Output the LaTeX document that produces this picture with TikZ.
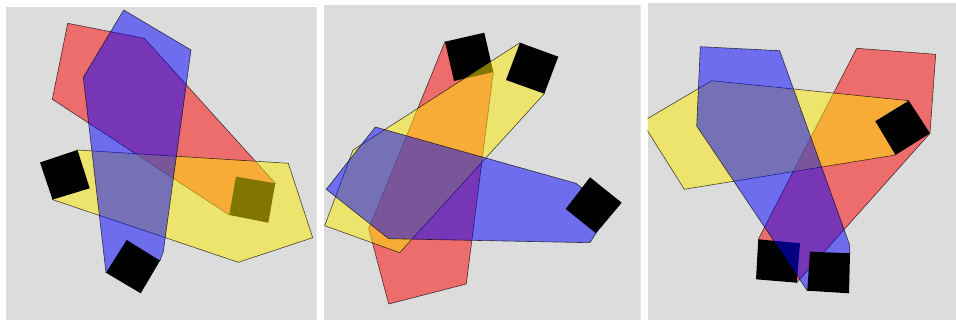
\documentclass[tikz,border=0pt]{standalone}
\usepackage{xcolor}
\usepackage{tikz}

\definecolor{panelgray}{RGB}{220,220,220}
\definecolor{polyyellow}{RGB}{255,236,0}

\begin{document}
\begin{tikzpicture}[
        x=1pt, y=-1pt,
        panel/.style      = {fill=panelgray, draw=none},
        poly/.style       = {draw=black, draw opacity=0.7, line width=0.6pt,
                             fill opacity=0.5, line join=round},
        redpoly/.style    = {poly, fill=red},
        bluepoly/.style   = {poly, fill=blue},
        yellowpoly/.style = {poly, fill=polyyellow},
        blockbox/.style   = {fill=black, draw=none}
    ]
    \useasboundingbox (0,0) rectangle (956,320);

    % --- Left panel ---
    \begin{scope}
    \clip (6,6.7) rectangle (316.7,320);
    \fill[panel] (6,6.7) rectangle (316.7,320);
    \draw[redpoly] (67.7,23.3) -- (144.3,38.3) -- (275.3,183.3) -- (229.3,215) -- (52.3,99.3) -- cycle;
    \fill[blockbox] (236,176.7) -- (275.3,183.3) -- (268.3,222.7) -- (229.3,215) -- cycle;
    \draw[yellowpoly] (77.5,150) -- (288.3,163.3) -- (312.7,237.7) -- (238.3,262.3) -- (52.5,199.6) -- cycle;
    \draw[bluepoly] (123.7,10) -- (191,50) -- (163.3,251.7) -- (160,260.7) -- (106,272.7) -- (83.3,77.3) -- cycle;
    \fill[blockbox] (40,162.5) -- (77.5,150) -- (89.7,188.3) -- (52.5,199.6) -- cycle;
    \fill[blockbox] (106,272.7) -- (126.7,240) -- (160,260.7) -- (140.7,293.3) -- cycle;
    \end{scope}

    % --- Middle panel ---
    \begin{scope}
    \clip (324,5) rectangle (640.7,320);
    \fill[panel] (324,5) rectangle (640.7,320);
    \draw[redpoly] (445,41.7) -- (493.3,72) -- (466.3,284) -- (388.7,304) -- (368.7,228.7) -- cycle;
    \fill[blockbox] (445,41.7) -- (484.3,32.7) -- (493.3,72) -- (454,81) -- cycle;
    \draw[yellowpoly] (520,42.7) -- (544.3,93.7) -- (399.7,252.7) -- (324.7,225.7) -- (353,150) -- cycle;
    \draw[bluepoly] (375.3,127) -- (576,183.3) -- (582,188) -- (596,233.3) -- (590,242.7) -- (388.7,238.7) -- (326.3,189.3) -- cycle;
    \fill[blockbox] (520,42.7) -- (558.3,56.7) -- (544.3,93.7) -- (506,80) -- cycle;
    \fill[blockbox] (590,177.3) -- (621.7,202.7) -- (596,233.3) -- (565.7,209) -- cycle;
    \end{scope}

    % --- Right panel ---
    \begin{scope}
    \clip (647.7,3) rectangle (956,320);
    \fill[panel] (647.7,3) rectangle (956,320);
    \draw[redpoly] (856.7,48.3) -- (935.7,54.3) -- (930,133.3) -- (796.7,282.7) -- (758.3,239.3) -- cycle;
    \fill[blockbox] (758.3,239.3) -- (800,243.3) -- (796.7,282.7) -- (756,279.3) -- cycle;
    \draw[yellowpoly] (711.7,80.7) -- (908.8,100.7) -- (895.5,155) -- (684.3,189.3) -- (641.9,122) -- cycle;
    \draw[bluepoly] (700.3,46.7) -- (779.7,50.7) -- (849.3,244) -- (850,253.3) -- (807.3,290.7) -- (696.7,126) -- cycle;
    \fill[blockbox] (875.3,121.2) -- (908.8,100.7) -- (930,133.3) -- (895.5,155) -- cycle;
    \fill[blockbox] (810,251.7) -- (850,253.3) -- (849,293.3) -- (807.3,290.7) -- cycle;
    \end{scope}

\end{tikzpicture}
\end{document}
